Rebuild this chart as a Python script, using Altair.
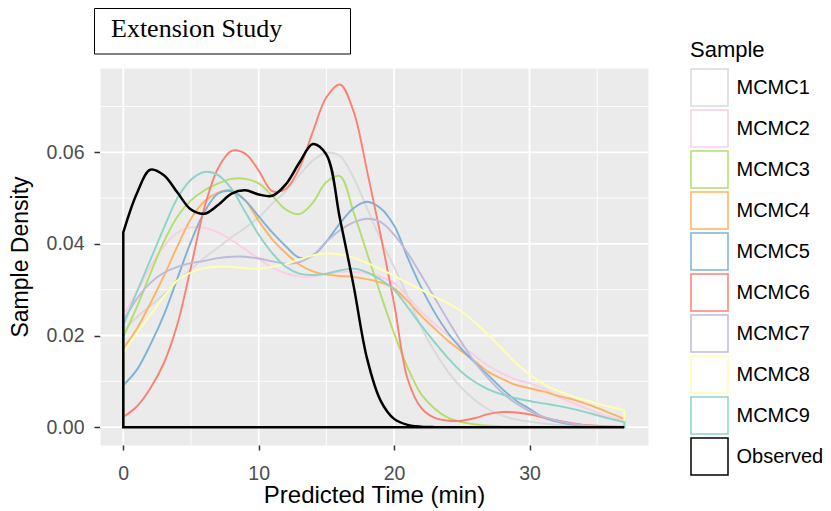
import altair as alt
import pandas as pd

# ---------------- data ----------------
x_vals = list(range(38))  # Predicted Time (min), 0..37

mcmc1 = [0.0210, 0.0240, 0.0265, 0.0290, 0.0318, 0.0345, 0.0370, 0.0392, 0.0415, 0.0435,
         0.0458, 0.0488, 0.0515, 0.0550, 0.0582, 0.0599, 0.0592, 0.0545, 0.0478, 0.0410,
         0.0350, 0.0285, 0.0218, 0.0165, 0.0120, 0.0085, 0.0058, 0.0038, 0.0025, 0.0017,
         0.0012, 0.0008, 0.0005, 0.0003, 0.0002, 0.0001, 0.0001, 0.0000]
mcmc2 = [0.0244, 0.0295, 0.0350, 0.0395, 0.0425, 0.0436, 0.0435, 0.0425, 0.0408, 0.0388,
         0.0368, 0.0348, 0.0336, 0.0329, 0.0329, 0.0334, 0.0339, 0.0339, 0.0336, 0.0328,
         0.0315, 0.0285, 0.0252, 0.0225, 0.0200, 0.0178, 0.0155, 0.0133, 0.0117, 0.0104,
         0.0096, 0.0085, 0.0068, 0.0055, 0.0043, 0.0032, 0.0022, 0.0015]
mcmc3 = [0.0197, 0.0262, 0.0335, 0.0405, 0.0460, 0.0495, 0.0517, 0.0532, 0.0542, 0.0542,
         0.0532, 0.0505, 0.0475, 0.0465, 0.0490, 0.0535, 0.0548, 0.0470, 0.0380, 0.0290,
         0.0205, 0.0130, 0.0072, 0.0040, 0.0020, 0.0011, 0.0006, 0.0003, 0.0001, 0.0001,
         0.0001, 0.0000, 0.0000, 0.0000, 0.0000, 0.0000, 0.0000, 0.0000]
mcmc4 = [0.0172, 0.0215, 0.0270, 0.0330, 0.0395, 0.0455, 0.0493, 0.0512, 0.0517, 0.0495,
         0.0450, 0.0410, 0.0380, 0.0355, 0.0340, 0.0333, 0.0330, 0.0328, 0.0323, 0.0316,
         0.0303, 0.0275, 0.0243, 0.0215, 0.0188, 0.0165, 0.0143, 0.0120, 0.0105, 0.0092,
         0.0085, 0.0078, 0.0069, 0.0062, 0.0053, 0.0042, 0.0030, 0.0018]
mcmc5 = [0.0091, 0.0125, 0.0180, 0.0245, 0.0325, 0.0405, 0.0470, 0.0510, 0.0515, 0.0495,
         0.0460, 0.0425, 0.0395, 0.0370, 0.0375, 0.0405, 0.0445, 0.0478, 0.0492, 0.0478,
         0.0440, 0.0370, 0.0305, 0.0250, 0.0205, 0.0170, 0.0140, 0.0112, 0.0083, 0.0058,
         0.0040, 0.0022, 0.0012, 0.0006, 0.0003, 0.0001, 0.0001, 0.0000]
mcmc6 = [0.0022, 0.0045, 0.0085, 0.0140, 0.0225, 0.0350, 0.0480, 0.0565, 0.0603, 0.0597,
         0.0560, 0.0515, 0.0520, 0.0565, 0.0645, 0.0720, 0.0748, 0.0690, 0.0560, 0.0420,
         0.0270, 0.0105, 0.0042, 0.0020, 0.0014, 0.0014, 0.0020, 0.0029, 0.0033, 0.0032,
         0.0028, 0.0021, 0.0015, 0.0009, 0.0005, 0.0003, 0.0001, 0.0001]
mcmc7 = [0.0232, 0.0280, 0.0315, 0.0337, 0.0350, 0.0358, 0.0363, 0.0369, 0.0372, 0.0372,
         0.0368, 0.0362, 0.0357, 0.0360, 0.0375, 0.0405, 0.0430, 0.0447, 0.0455, 0.0448,
         0.0420, 0.0380, 0.0332, 0.0282, 0.0232, 0.0184, 0.0140, 0.0105, 0.0075, 0.0052,
         0.0035, 0.0023, 0.0014, 0.0008, 0.0004, 0.0002, 0.0001, 0.0000]
mcmc8 = [0.0161, 0.0205, 0.0245, 0.0285, 0.0320, 0.0338, 0.0347, 0.0350, 0.0350, 0.0347,
         0.0346, 0.0350, 0.0356, 0.0366, 0.0375, 0.0379, 0.0377, 0.0370, 0.0358, 0.0345,
         0.0330, 0.0315, 0.0300, 0.0285, 0.0270, 0.0252, 0.0228, 0.0200, 0.0170, 0.0140,
         0.0115, 0.0095, 0.0080, 0.0069, 0.0060, 0.0052, 0.0044, 0.0037]
mcmc9 = [0.0222, 0.0295, 0.0365, 0.0435, 0.0500, 0.0540, 0.0557, 0.0550, 0.0520, 0.0470,
         0.0420, 0.0380, 0.0350, 0.0335, 0.0332, 0.0335, 0.0342, 0.0346, 0.0338, 0.0322,
         0.0300, 0.0262, 0.0222, 0.0185, 0.0150, 0.0120, 0.0098, 0.0082, 0.0071, 0.0063,
         0.0057, 0.0052, 0.0047, 0.0041, 0.0034, 0.0026, 0.0018, 0.0011]
observed = [0.0425, 0.0510, 0.0562, 0.0550, 0.0512, 0.0475, 0.0466, 0.0485, 0.0510, 0.0517,
            0.0508, 0.0505, 0.0530, 0.0577, 0.0618, 0.0595, 0.0455, 0.0310, 0.0150, 0.0058,
            0.0018, 0.0005, 0.0001, 0.0000, 0.0000, 0.0000, 0.0000, 0.0000, 0.0000, 0.0000,
            0.0000, 0.0000, 0.0000, 0.0000, 0.0000, 0.0000, 0.0000, 0.0000]

series_names = ["MCMC1", "MCMC2", "MCMC3", "MCMC4", "MCMC5",
                "MCMC6", "MCMC7", "MCMC8", "MCMC9", "Observed"]
series_values = [mcmc1, mcmc2, mcmc3, mcmc4, mcmc5, mcmc6, mcmc7, mcmc8, mcmc9, observed]
series_colors = ["#D9D9D9", "#FCCDE5", "#B3DE69", "#FDB462", "#80B1D3",
                 "#FB8072", "#BEBADA", "#FFFFB3", "#8DD3C7", "#000000"]

x_major = [0, 10, 20, 30]
x_minor = [5, 15, 25, 35]
y_major = [0.00, 0.02, 0.04, 0.06]
y_minor = [0.01, 0.03, 0.05, 0.07]

panel_title = "Extension Study"

# ---------------- tables ----------------
rows = []
for name, vals in zip(series_names, series_values):
    for xv, yv in zip(x_vals, vals):
        rows.append({"Sample": name, "time": xv, "density": yv, "base": 0.0})
df = pd.DataFrame(rows)
df_mcmc = df[df["Sample"] != "Observed"]
df_obs = df[df["Sample"] == "Observed"]

W, H = 548, 377
FONT = "Liberation Sans"

xscale = alt.Scale(domain=[-1.72, 38.75], nice=False, zero=False)
yscale = alt.Scale(domain=[-0.0039, 0.0784], nice=False, zero=False)

x_axis = alt.Axis(title="Predicted Time (min)", values=x_major, grid=False, domain=False,
                  tickSize=5, tickWidth=1.5, tickColor="#333333",
                  labelColor="#4D4D4D", labelFontSize=19.5, labelFont=FONT, labelPadding=14,
                  titleFont=FONT, titleFontSize=24, titleFontWeight="normal", titleColor="black",
                  titleY=57, titleBaseline="alphabetic")
y_axis = alt.Axis(title="Sample Density", values=y_major, format=".2f", grid=False, domain=False,
                  tickSize=6, tickWidth=1.5, tickColor="#333333",
                  labelColor="#4D4D4D", labelFontSize=19.5, labelFont=FONT, labelPadding=10,
                  titleFont=FONT, titleFontSize=23, titleFontWeight="normal", titleColor="black",
                  titleX=-73, titleY=H / 2, titleAngle=-90, titleBaseline="alphabetic",
                  titleAlign="center")


def X(field):
    return alt.X(field, type="quantitative", scale=xscale, axis=x_axis)


def Y(field):
    return alt.Y(field, type="quantitative", scale=yscale, axis=y_axis)


stroke_enc = alt.Stroke("Sample:N",
                        scale=alt.Scale(domain=series_names, range=series_colors),
                        legend=alt.Legend(title="Sample", orient="none", legendX=590, legendY=-28))

grid_minor_x = alt.Chart(pd.DataFrame({"v": x_minor})).mark_rule(
    color="white", strokeWidth=0.9).encode(x=X("v"))
grid_minor_y = alt.Chart(pd.DataFrame({"v": y_minor})).mark_rule(
    color="white", strokeWidth=0.9).encode(y=Y("v"))
grid_major_x = alt.Chart(pd.DataFrame({"v": x_major})).mark_rule(
    color="white", strokeWidth=1.8).encode(x=X("v"))
grid_major_y = alt.Chart(pd.DataFrame({"v": y_major})).mark_rule(
    color="white", strokeWidth=1.8).encode(y=Y("v"))

areas_mcmc = alt.Chart(df_mcmc).mark_area(
    strokeWidth=1.9, interpolate="catmull-rom").encode(
    x=X("time"), y=Y("density"), y2=alt.Y2("base"), stroke=stroke_enc,
    fill=alt.value("transparent"))

areas_obs = alt.Chart(df_obs).mark_area(
    strokeWidth=2.5, interpolate="catmull-rom").encode(
    x=X("time"), y=Y("density"), y2=alt.Y2("base"), stroke=stroke_enc,
    fill=alt.value("transparent"))

box_df = pd.DataFrame({"label": [panel_title]})
title_box = alt.Chart(box_df).mark_rect(fill="white", stroke="black", strokeWidth=1).encode(
    x=alt.value(-5.5), x2=alt.value(250.5), y=alt.value(-59.5), y2=alt.value(-14))
title_text = alt.Chart(box_df).mark_text(
    font="Liberation Serif", fontSize=26, align="left", baseline="alphabetic", color="black").encode(
    x=alt.value(11), y=alt.value(-31), text="label:N")

chart = alt.layer(
    grid_minor_x, grid_minor_y, grid_major_x, grid_major_y,
    areas_mcmc, areas_obs, title_box, title_text
).properties(
    width=W, height=H,
    autosize=alt.AutoSizeParams(type="none"),
    padding={"left": 92, "top": 60, "right": 175, "bottom": 66},
).configure_view(
    fill="#EBEBEB", stroke="transparent"
).configure_legend(
    titleFont=FONT, titleFontSize=22, titleFontWeight="normal", titleColor="black",
    titlePadding=6, labelFont=FONT, labelFontSize=20, labelColor="black",
    labelOffset=7.5, symbolType="square", symbolSize=1369, symbolStrokeWidth=1.5,
    symbolFillColor="#F2F2F2", rowPadding=-3.0, padding=0
)

chart.save("out.html", embed_options={"renderer": "svg", "actions": False})
